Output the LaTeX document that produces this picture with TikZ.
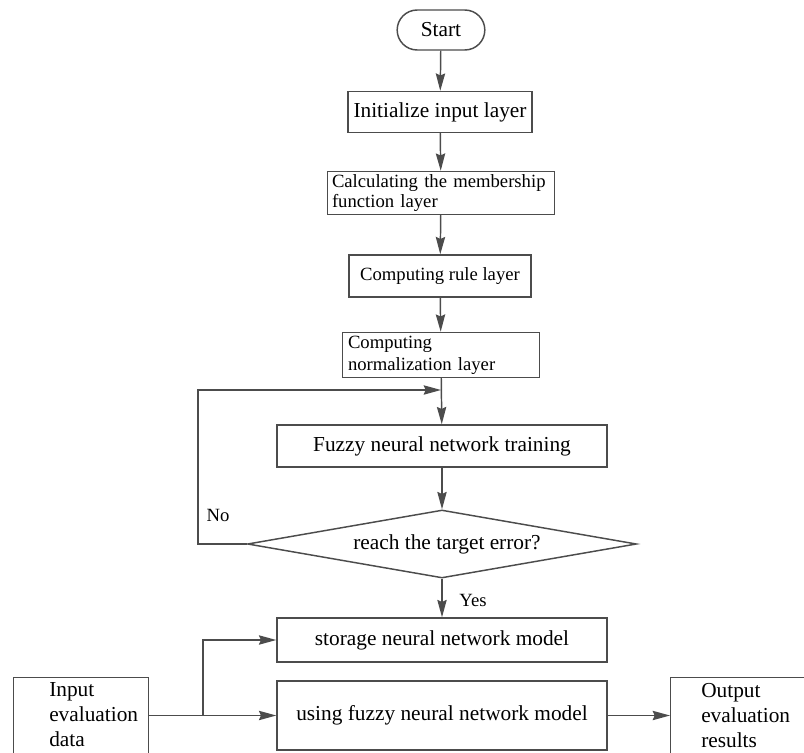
\documentclass[tikz,border=0pt]{standalone}
\usepackage{fontspec}
\setmainfont{Liberation Serif}
\newfontfamily\chartfont{Liberation Serif}
\usetikzlibrary{arrows.meta, positioning, shapes}

\newdimen\px
\px=0.75pt

\begin{document}
\begin{tikzpicture}[
    x=0.75pt, y=-0.75pt,
    box/.style={rectangle, draw=black!70, line width=1.1pt, fill=white, inner sep=2pt},
    bigtext/.style={font=\chartfont\fontsize{16}{19}\selectfont},
    smalltext/.style={font=\chartfont\fontsize{14}{15}\selectfont},
    sidetext/.style={font=\chartfont\fontsize{16}{18.75}\selectfont, align=left, anchor=west, inner sep=0pt},
    arrow/.style={-{Stealth[length=13pt, width=7pt, inset=1.5pt]}, draw=black!70, line width=1.1pt}
  ]
    \useasboundingbox (0,0) rectangle (804,753);
    \clip (0,0) rectangle (804,753);

    \node[box, bigtext, rounded rectangle, minimum width=93\px, minimum height=40\px] (start) at (441,30) {Start};
    \node[box, bigtext, minimum width=184\px, minimum height=41\px] (init) at (440,112) {Initialize input layer};
    \node[box, smalltext, minimum width=227\px, minimum height=43\px, text width=218\px, align=left] (memb) at (441,193) {Calculating the membership\\function layer};
    \node[box, smalltext, minimum width=182\px, minimum height=42\px] (rule) at (440,276) {Computing rule layer};
    \node[box, smalltext, minimum width=197\px, minimum height=45\px, text width=186\px, align=left, font=\chartfont\fontsize{14}{16.5}\selectfont] (norm) at (441,355) {Computing\\normalization layer};
    \node[box, bigtext, minimum width=330\px, minimum height=42\px] (train) at (442,446) {Fuzzy neural network training};
    \node[box, diamond, inner sep=0pt, minimum width=389\px, minimum height=68\px] (check) at (442,544) {};
    \node[bigtext] (checktext) at (447,544) {reach the target error?};
    \node[box, bigtext, minimum width=330\px, minimum height=44\px] (store) at (442,640) {storage neural network model};
    \node[box, bigtext, minimum width=330\px, minimum height=69\px] (use) at (442,715.5) {using fuzzy neural network model};
    \node[box, minimum width=135\px, minimum height=82\px, anchor=north west] (input) at (13,677) {};
    \node[sidetext] (inputtext) at (49,715) {Input\\evaluation\\data};
    \node[box, minimum width=140\px, minimum height=82\px, anchor=north west] (output) at (670,677) {};
    \node[sidetext] (outputtext) at (701,716) {Output\\evaluation\\results};

    \node[smalltext] (no) at (218,515) {No};
    \node[smalltext] (yes) at (473,600) {Yes};

    \coordinate (back) at (198,544);
    \coordinate (join) at (441,390);
    \coordinate (fork) at (203,715.5);

    \draw[arrow] (start) -- (init);
    \draw[arrow] (init) -- (memb);
    \draw[arrow] (memb) -- (rule);
    \draw[arrow] (rule) -- (norm);
    \draw[arrow] (norm) -- (train);
    \draw[arrow] (train) -- (check);
    \draw[arrow] (check) -- (store);
    \draw[arrow] (check.west) -- (back) |- (join);
    \draw[arrow] (input.east |- fork) -- (use.west);
    \draw[arrow] (fork) |- (store.west);
    \draw[arrow] (use.east) -- (output.west |- use.east);
  \end{tikzpicture}
\end{document}
